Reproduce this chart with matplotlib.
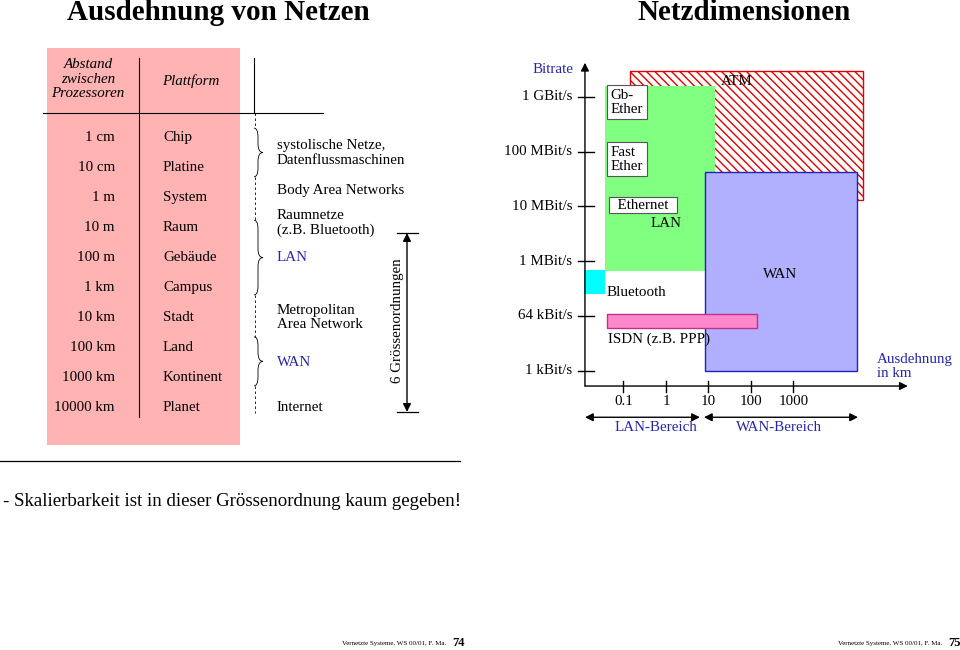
import numpy as np
from matplotlib import pyplot as plt
from matplotlib.patches import Rectangle, PathPatch
from matplotlib.path import Path

plt.rcParams['font.family'] = ['Liberation Serif', 'DejaVu Serif']

# left table
distances = ['1 cm', '10 cm', '1 m', '10 m', '100 m', '1 km', '10 km',
             '100 km', '1000 km', '10000 km']
platforms = ['Chip', 'Platine', 'System', 'Raum', 'Gebäude', 'Campus',
             'Stadt', 'Land', 'Kontinent', 'Planet']
net_labels = ['systolische Netze,\nDatenflussmaschinen', 'Body Area Networks',
              'Raumnetze\n(z.B. Bluetooth)', 'LAN',
              'Metropolitan\nArea Network', 'WAN', 'Internet']
net_rows = [0.5, 1.75, 2.85, 4, 6, 7.5, 9]
net_blue = [False, False, False, True, False, True, False]
braces = [(-0.33, 1.3), (2.75, 5.25), (6.65, 8.29)]
gaps = [(-0.84, -0.33), (1.3, 2.75), (5.25, 6.65), (8.29, 9.2)]

# right chart
rate_labels = ['1 kBit/s', '64 kBit/s', '1 MBit/s', '10 MBit/s',
               '100 MBit/s', '1 GBit/s']
km_ticks = [0.1, 1, 10, 100, 1000]
km_tick_labels = ['0.1', '1', '10', '100', '1000']
net_names = ['ATM', 'LAN', 'WAN', 'Bluetooth', 'ISDN']
km_from = [0.141, 0.036, 8.3, 0.012, 0.041]
km_to = [43650, 14, 31600, 0.036, 138]
rate_from = [3.12, 1.82, 0.0, 1.40, 0.78]
rate_to = [5.47, 5.20, 3.62, 1.84, 1.03]

blue = '#2626a8'
fs = 10.8
ls = 1.12

fig = plt.figure(figsize=(9.6, 6.5), dpi=100)


def px(x, y):
    return x / 960, 1 - y / 650


# ---- titles and page text
fig.text(*px(218, 12), 'Ausdehnung von Netzen', fontsize=21, weight='bold',
         ha='center', va='center')
fig.text(*px(744, 12), 'Netzdimensionen', fontsize=21, weight='bold',
         ha='center', va='center')
fig.text(*px(3, 502), '- Skalierbarkeit ist in dieser Grössenordnung kaum gegeben!',
         fontsize=13.6, ha='left', va='center')
fig.add_artist(plt.Line2D([0, 460 / 960], [1 - 461 / 650] * 2, color='black', lw=0.9))
for x, num in [(342, '74'), (838, '75')]:
    fig.text(*px(x, 644), 'Vernetzte Systeme, WS 00/01, F. Ma.', fontsize=5,
             ha='left', va='center')
    fig.text(*px(x + 110, 643), num, fontsize=9, weight='bold',
             ha='left', va='center')

# ---- table (x in pixels, y in rows)
ax_t = fig.add_axes([0, 0, 1, 1])
ax_t.set_xlim(0, 960)
ax_t.set_ylim(17.124, -4.615)
ax_t.axis('off')

ax_t.add_patch(Rectangle((47, -3.01), 193, 13.28, color='#ffb3b3', lw=0))
ax_t.text(88, -1.97, 'Abstand\nzwischen\nProzessoren', style='italic',
          fontsize=fs, ha='center', va='center', linespacing=ls)
ax_t.text(191, -1.9, 'Plattform', style='italic', fontsize=fs,
          ha='center', va='center')
ax_t.plot([43, 323], [-0.84, -0.84], color='black', lw=0.8)
ax_t.plot([139, 139], [-2.68, 9.33], color='black', lw=0.8)
ax_t.plot([254, 254], [-2.68, -0.84], color='black', lw=0.8)

for i, (d, p) in enumerate(zip(distances, platforms)):
    ax_t.text(115, i, d, fontsize=fs, ha='right', va='center')
    ax_t.text(163, i, p, fontsize=fs, ha='left', va='center')

for r0, r1 in gaps:
    ax_t.plot([255, 255], [r0, r1], color='black', lw=0.6, ls=(0, (3, 3)))

for r0, r1 in braces:
    m = (r0 + r1) / 2
    verts = [(254, r0), (258, r0), (258, r0 + 0.3),
             (258, m - 0.3), (258, m), (263, m),
             (258, m), (258, m + 0.3),
             (258, r1 - 0.3), (258, r1), (254, r1)]
    codes = [Path.MOVETO, Path.CURVE3, Path.CURVE3,
             Path.LINETO, Path.CURVE3, Path.CURVE3,
             Path.CURVE3, Path.CURVE3,
             Path.LINETO, Path.CURVE3, Path.CURVE3]
    ax_t.add_patch(PathPatch(Path(verts, codes), fill=False, lw=0.6,
                             edgecolor='black'))

for lab, r, b in zip(net_labels, net_rows, net_blue):
    ax_t.text(277, r, lab, fontsize=fs, ha='left', va='center',
              color=blue if b else 'black', linespacing=ls)

ax_t.annotate('', xy=(407, 3.18), xytext=(407, 9.16),
              arrowprops=dict(arrowstyle='<|-|>', color='black', lw=1,
                              mutation_scale=12, shrinkA=0, shrinkB=0))
ax_t.plot([397, 418], [3.18, 3.18], color='black', lw=0.9)
ax_t.plot([397, 418], [9.16, 9.16], color='black', lw=0.9)
ax_t.text(397, 6.1, '6 Grössenordnungen', rotation=90, fontsize=fs,
          ha='center', va='center')

# ---- right chart: x = km (log), y = bitrate level
ax = fig.add_axes([560 / 960, 1 - 400 / 650, 380 / 960, 340 / 650])
ax.set_xscale('log')
ax.set_xlim(10 ** -2.494, 10 ** 6.447)
ax.set_ylim(-0.535, 5.67)
ax.axis('off')

styles = {
    'ATM': dict(facecolor='white', edgecolor='#e00000', hatch='\\\\\\\\', lw=1, zorder=1),
    'LAN': dict(facecolor='#80ff80', edgecolor='#80ff80', lw=0, zorder=2),
    'WAN': dict(facecolor='#b0b0ff', edgecolor='#2020c0', lw=1, zorder=3),
    'Bluetooth': dict(facecolor='#00ffff', edgecolor='#00ffff', lw=0, zorder=3),
    'ISDN': dict(facecolor='#ff88cc', edgecolor='#c0308a', lw=1, zorder=4),
}
for n, x0, x1, y0, y1 in zip(net_names, km_from, km_to, rate_from, rate_to):
    ax.add_patch(Rectangle((x0, y0), x1 - x0, y1 - y0, **styles[n]))

x_orig = 0.0124
y_orig = -0.28
ax.annotate('', xy=(x_orig, 5.62), xytext=(x_orig, y_orig),
            arrowprops=dict(arrowstyle='-|>', color='black', lw=1,
                            mutation_scale=12, shrinkA=0, shrinkB=0))
ax.annotate('', xy=(4.9e5, y_orig), xytext=(x_orig, y_orig),
            arrowprops=dict(arrowstyle='-|>', color='black', lw=1,
                            mutation_scale=12, shrinkA=0, shrinkB=0))
for lvl, lab in enumerate(rate_labels):
    ax.plot([0.0085, 0.0204], [lvl, lvl], color='black', lw=1, clip_on=False)
    ax.text(0.0062, lvl, lab, fontsize=fs, ha='right', va='center')
for k, lab in zip(km_ticks, km_tick_labels):
    ax.plot([k, k], [-0.19, -0.39], color='black', lw=1, clip_on=False)
    ax.text(k, -0.57, lab, fontsize=fs, ha='center', va='center')

ax.text(0.0022, 5.49, 'Bitrate', color=blue, fontsize=fs, ha='center', va='center')
box = dict(facecolor='white', edgecolor='#555555', lw=0.8, pad=2.5)
ax.text(0.05, 4.9, 'Gb-\nEther', fontsize=fs, ha='left', va='center',
        bbox=box, linespacing=ls, zorder=5)
ax.text(0.05, 3.86, 'Fast\nEther', fontsize=fs, ha='left', va='center',
        bbox=box, linespacing=ls, zorder=5)
ax.text(0.048, 3.02, '  Ethernet  ', fontsize=fs, ha='left', va='center',
        bbox=dict(facecolor='white', edgecolor='#555555', lw=0.8, pad=1.0),
        zorder=5)
ax.text(1, 2.68, 'LAN', fontsize=fs, ha='center', va='center', zorder=5)
ax.text(46.8, 5.27, 'ATM', fontsize=fs, ha='center', va='center', zorder=5)
ax.text(480, 1.76, 'WAN', fontsize=fs, ha='center', va='center', zorder=5)
ax.text(0.039, 1.42, 'Bluetooth', fontsize=fs, ha='left', va='center', zorder=5)
ax.text(0.043, 0.58, 'ISDN (z.B. PPP)', fontsize=fs, ha='left', va='center', zorder=5)
ax.text(9.2e4, 0.07, 'Ausdehnung\nin km', color=blue, fontsize=fs,
        ha='left', va='center', linespacing=ls)

for a, b in [(x_orig, 6.3), (7.8, 3.3e4)]:
    ax.annotate('', xy=(a, -0.85), xytext=(b, -0.85), annotation_clip=False,
                arrowprops=dict(arrowstyle='<|-|>', color='black', lw=1,
                                mutation_scale=12, shrinkA=0, shrinkB=0))
ax.text(0.58, -1.03, 'LAN-Bereich', color=blue, fontsize=fs, ha='center', va='center')
ax.text(457, -1.03, 'WAN-Bereich', color=blue, fontsize=fs, ha='center', va='center')

fig.savefig('out.png', dpi=100)
